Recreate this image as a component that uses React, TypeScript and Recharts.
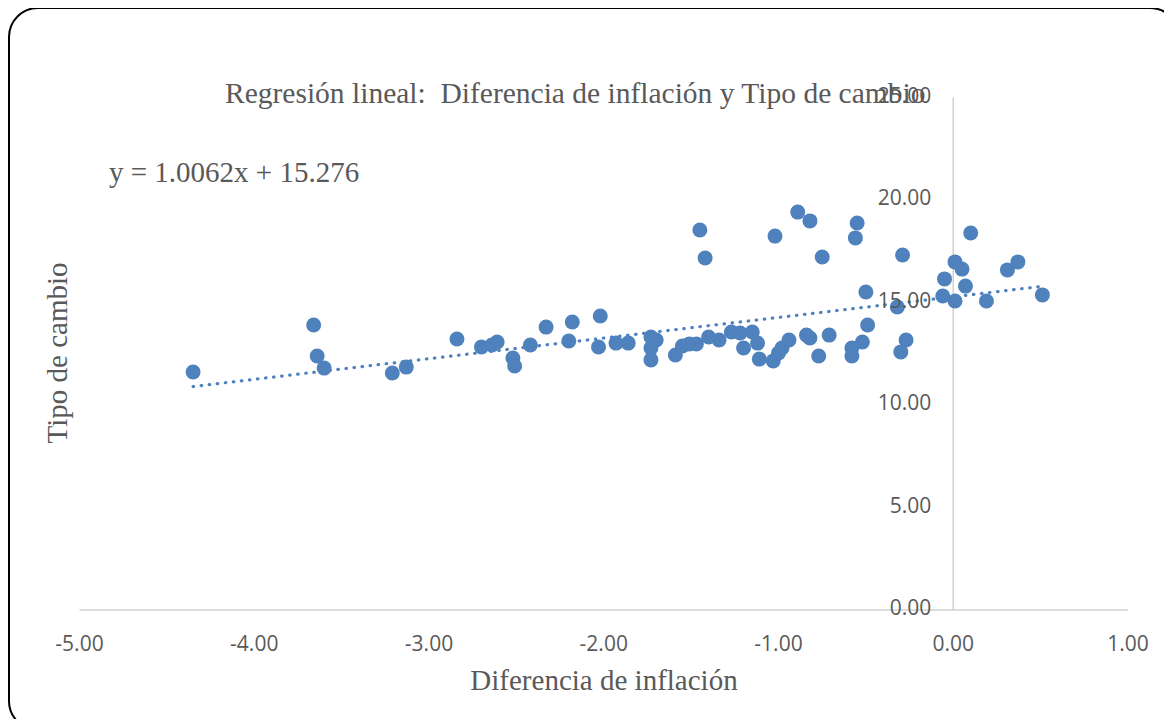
import { ScatterChart, Scatter, XAxis, YAxis, ReferenceLine, ReferenceDot } from 'recharts';

// Diferencia de inflación (x) y Tipo de cambio (y)
const inflationDiff = [
  -4.35, -3.66, -3.64, -3.6, -3.21, -3.13, -2.84, -2.7, -2.64, -2.61, -2.52, -2.51,
  -2.42, -2.33, -2.2, -2.18, -2.03, -2.02, -1.93, -1.86, -1.73, -1.7, -1.73, -1.73,
  -1.59, -1.55, -1.51, -1.47, -1.45, -1.42, -1.4, -1.34, -1.27, -1.22, -1.2, -1.15,
  -1.12, -1.11, -1.03, -1.0, -0.98, -0.94, -1.02, -0.89, -0.82, -0.84, -0.82, -0.77,
  -0.75, -0.71, -0.58, -0.58, -0.56, -0.55, -0.52, -0.5, -0.49, -0.32, -0.3, -0.29,
  -0.27, -0.06, -0.05, 0.01, 0.01, 0.05, 0.07, 0.1, 0.19, 0.31, 0.37, 0.51,
];
const exchangeRate = [
  11.61, 13.9, 12.39, 11.8, 11.56, 11.85, 13.22, 12.83, 12.93, 13.07, 12.29, 11.9,
  12.93, 13.8, 13.12, 14.05, 12.83, 14.34, 13.02, 13.02, 13.32, 13.17, 12.78, 12.2,
  12.44, 12.88, 12.98, 12.98, 18.54, 17.17, 13.32, 13.17, 13.56, 13.51, 12.78, 13.56,
  13.02, 12.24, 12.15, 12.54, 12.78, 13.17, 18.24, 19.41, 18.98, 13.41, 13.27, 12.39,
  17.22, 13.41, 12.78, 12.39, 18.15, 18.88, 13.07, 15.51, 13.9, 14.78, 12.59, 17.32,
  13.17, 15.32, 16.15, 15.07, 16.98, 16.63, 15.8, 18.39, 15.07, 16.59, 16.98, 15.37,
];

// extremos de la recta y = 1.0062x + 15.276
const trendX = [-4.35, 0.51];
const trendY = [10.9, 15.79];

const xTicks = [-5, -4, -3, -2, -1, 0, 1];
const yTicks = [0, 5, 10, 15, 20, 25];

const points = inflationDiff.map((x, i) => ({ x, y: exchangeRate[i] }));

const BLUE = '#4f81bd';
const GREY_TEXT = '#595959';
const AXIS = '#d0d0d0';
const SERIF = '"Liberation Serif", "Times New Roman", serif';
const SANS = '"Open Sans", "Noto Sans", sans-serif';

const Marker = (props: any) => <circle cx={props.cx} cy={props.cy} r={7.5} fill={BLUE} />;

export default function App() {
  return (
    <div style={{ position: 'relative', width: 1156, height: 711 }}>
      <style>{'html, body { overflow: hidden; }'}</style>
      <div
        style={{
          position: 'absolute',
          left: 0,
          top: -1,
          width: 1172,
          height: 724,
          border: '2px solid #000',
          borderRadius: 30,
          boxSizing: 'border-box',
          background: '#fff',
        }}
      />
      <div style={{ position: 'absolute', left: 0, top: 0 }}>
        <ScatterChart
          width={1156}
          height={711}
          margin={{ top: 89.5, right: 36, bottom: 69, left: 71.5 }}
        >
          <XAxis
            type="number"
            dataKey="x"
            domain={[-5, 1]}
            ticks={xTicks}
            tickFormatter={(v: number) => v.toFixed(2)}
            tickLine={false}
            tickSize={6}
            tickMargin={20}
            height={40}
            axisLine={{ stroke: AXIS, strokeWidth: 1.5 }}
            tick={{ fill: GREY_TEXT, fontSize: 21, fontFamily: SANS }}
          />
          <YAxis type="number" dataKey="y" domain={[0, 25]} hide />
          <ReferenceLine x={0} stroke={AXIS} strokeWidth={1.5} />
          <Scatter data={points} fill={BLUE} shape={Marker} isAnimationActive={false} />
          <ReferenceLine
            segment={[
              { x: trendX[0], y: trendY[0] },
              { x: trendX[1], y: trendY[1] },
            ]}
            stroke={BLUE}
            strokeWidth={3.2}
            strokeDasharray="0.5 7.6"
            strokeLinecap="round"
          />
          {yTicks.map((v) => (
            <ReferenceDot
              key={v}
              x={0}
              y={v}
              r={0}
              fill="none"
              stroke="none"
              label={{
                value: v.toFixed(2),
                position: 'left',
                offset: 22,
                fill: GREY_TEXT,
                fontSize: 21,
                fontFamily: SANS,
                dy: -2,
              }}
            />
          ))}
        </ScatterChart>
      </div>
      <svg
        width={1156}
        height={711}
        style={{ position: 'absolute', left: 0, top: 0, pointerEvents: 'none' }}
      >
        <text
          x={217}
          y={95}
          fontSize={29.5}
          fontFamily={SERIF}
          fill={GREY_TEXT}
          style={{ whiteSpace: 'pre' }}
        >
          {'Regresión lineal:  Diferencia de inflación y Tipo de cambio'}
        </text>
        <text x={101} y={174} fontSize={29} fontFamily={SERIF} fill={GREY_TEXT}>
          y = 1.0062x + 15.276
        </text>
        <text
          x={59}
          y={345}
          fontSize={29}
          fontFamily={SERIF}
          fill={GREY_TEXT}
          textAnchor="middle"
          transform="rotate(-90, 59, 345)"
        >
          Tipo de cambio
        </text>
        <text x={596} y={682} fontSize={29} fontFamily={SERIF} fill={GREY_TEXT} textAnchor="middle">
          Diferencia de inflación
        </text>
      </svg>
    </div>
  );
}
